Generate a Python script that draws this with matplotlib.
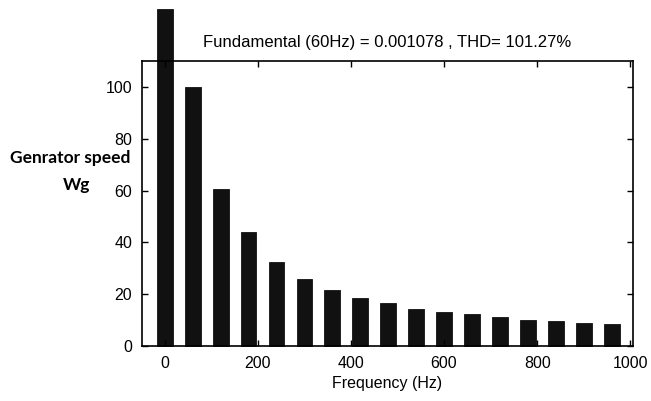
import matplotlib
matplotlib.use("Agg")
import matplotlib.pyplot as plt

# harmonic spectrum of generator speed
freq = [0, 60, 120, 180, 240, 300, 360, 420, 480, 540, 600, 660, 720, 780, 840, 900, 960]
mag = [130, 100, 60.5, 44, 32.3, 26, 21.6, 18.6, 16.5, 14.3, 13.2, 12.2, 11.1, 10.2, 9.5, 9.0, 8.6]

xticks = [0, 200, 400, 600, 800, 1000]
yticks = [0, 20, 40, 60, 80, 100]

plt.rcParams['font.family'] = ['Liberation Sans', 'DejaVu Sans']

fig = plt.figure(figsize=(6.51, 4.01), dpi=100)
ax = fig.add_axes([142/651, 1-346/401, (633-142)/651, (346-61)/401])

bars = ax.bar(freq, mag, width=34, color='#111111', edgecolor='#111111', linewidth=0.6)
for b in bars:
    b.set_clip_on(False)

ax.set_xlim(-49, 1006)
ax.set_ylim(0, 110)
ax.set_xticks(xticks)
ax.set_yticks(yticks)
ax.tick_params(direction='in', top=True, right=True, length=4, width=1, labelsize=11.5, pad=7)
for s in ax.spines.values():
    s.set_linewidth(1.2)
    s.set_zorder(3)

ax.set_xlabel('Frequency (Hz)', fontsize=11.5, labelpad=4)
ax.set_title('Fundamental (60Hz) = 0.001078 , THD= 101.27%', fontsize=12, pad=10)

fig.text(70/651, 1-158/401, 'Genrator speed', ha='center', va='center',
         fontsize=12.5, fontweight='bold', family=['Lato', 'DejaVu Sans'])
fig.text(77/651, 1-185/401, 'Wg', ha='center', va='center',
         fontsize=12.5, fontweight='bold', family=['Lato', 'DejaVu Sans'])

fig.savefig('out.png', dpi=100)
